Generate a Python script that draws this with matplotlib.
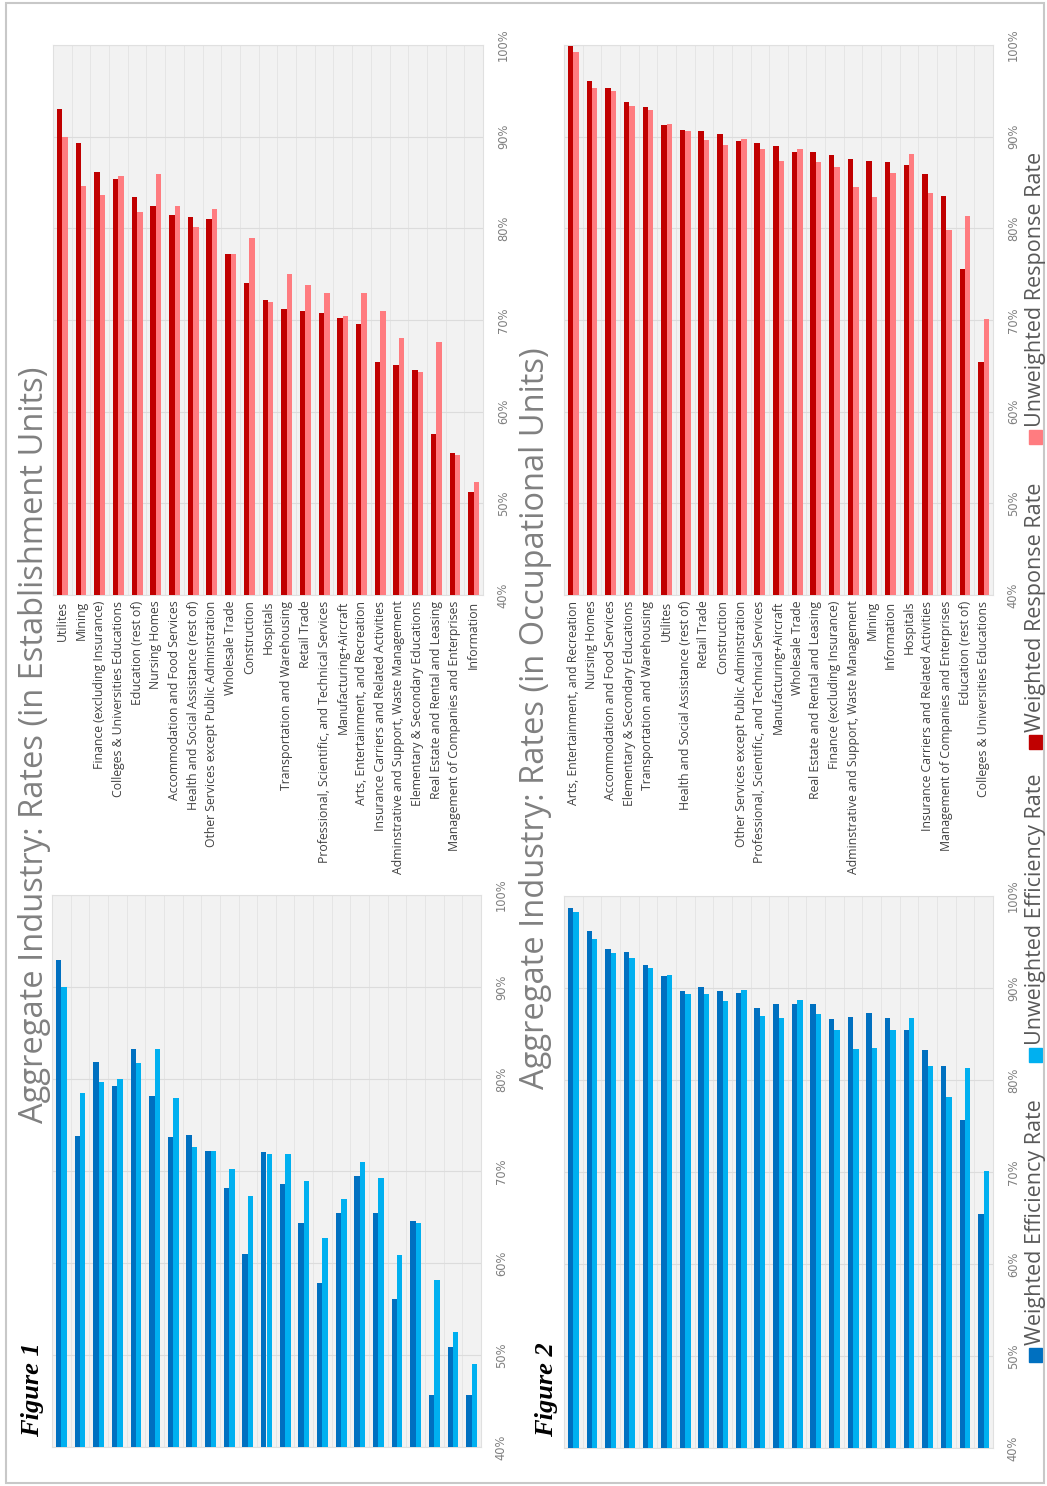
import matplotlib.pyplot as plt
import numpy as np
from matplotlib.patches import Rectangle

# =========================================
#   Data
# =========================================
fig1_industries = [
    'Utilites', 'Mining', 'Finance (excluding Insurance)',
    'Colleges & Universities Educations', 'Education (rest of)', 'Nursing Homes',
    'Accommodation and Food Services', 'Health and Social Assistance (rest of)',
    'Other Services except Public Adminstration', 'Wholesale Trade', 'Construction',
    'Hospitals', 'Transportation and Warehousing', 'Retail Trade',
    'Professional, Scientific, and Technical Services', 'Manufacturing+Aircraft',
    'Arts, Entertainment, and Recreation', 'Insurance Carriers and Related Activities',
    'Adminstrative and Support, Waste Management', 'Elementary & Secondary Educations',
    'Real Estate and Rental and Leasing', 'Management of Companies and Enterprises',
    'Information'
]
fig1_weighted_response = [93.0, 89.3, 86.1, 85.4, 83.4, 82.4, 81.5, 81.2, 81.0, 77.2, 74.0, 72.2,
                          71.2, 71.0, 70.8, 70.2, 69.6, 65.4, 65.1, 64.6, 57.6, 55.5, 51.2]
fig1_unweighted_response = [90.0, 84.6, 83.6, 85.7, 81.8, 85.9, 82.4, 80.1, 82.1, 77.2, 78.9, 72.0,
                            75.0, 73.8, 73.0, 70.4, 73.0, 71.0, 68.0, 64.3, 67.6, 55.3, 52.3]
fig1_weighted_eff = [92.9, 73.8, 81.9, 79.2, 83.3, 78.2, 73.7, 73.9, 72.2, 68.2, 61.0, 72.1,
                     68.6, 64.3, 57.8, 65.4, 69.5, 65.4, 56.1, 64.6, 45.6, 50.9, 45.7]
fig1_unweighted_eff = [90.0, 78.5, 79.7, 80.0, 81.7, 83.3, 77.9, 72.6, 72.2, 70.2, 67.3, 71.9,
                       71.9, 68.9, 62.7, 67.0, 71.0, 69.2, 60.9, 64.3, 58.2, 52.5, 49.0]

fig2_industries = [
    'Arts, Entertainment, and Recreation', 'Nursing Homes', 'Accommodation and Food Services',
    'Elementary & Secondary Educations', 'Transportation and Warehousing', 'Utilites',
    'Health and Social Assistance (rest of)', 'Retail Trade', 'Construction',
    'Other Services except Public Adminstration',
    'Professional, Scientific, and Technical Services', 'Manufacturing+Aircraft',
    'Wholesale Trade', 'Real Estate and Rental and Leasing', 'Finance (excluding Insurance)',
    'Adminstrative and Support, Waste Management', 'Mining', 'Information', 'Hospitals',
    'Insurance Carriers and Related Activities', 'Management of Companies and Enterprises',
    'Education (rest of)', 'Colleges & Universities Educations'
]
fig2_weighted_response = [99.9, 96.1, 95.3, 93.8, 93.2, 91.3, 90.7, 90.6, 90.3, 89.5, 89.3, 89.0,
                          88.3, 88.3, 88.0, 87.6, 87.3, 87.2, 86.9, 85.9, 83.5, 75.6, 65.4]
fig2_unweighted_response = [99.2, 95.3, 95.0, 93.3, 92.9, 91.4, 90.6, 89.6, 89.1, 89.8, 88.7, 87.4,
                            88.7, 87.2, 86.7, 84.5, 83.4, 86.0, 88.1, 83.9, 79.8, 81.3, 70.1]
fig2_weighted_eff = [98.7, 96.2, 94.2, 93.9, 92.5, 91.3, 89.7, 90.1, 89.7, 89.5, 87.8, 88.3,
                     88.3, 88.3, 86.6, 86.8, 87.3, 86.7, 85.4, 83.3, 81.5, 75.6, 65.4]
fig2_unweighted_eff = [98.3, 95.3, 93.8, 93.3, 92.2, 91.4, 89.3, 89.3, 88.6, 89.8, 87.0, 86.7,
                       88.7, 87.2, 85.4, 83.4, 83.5, 85.4, 86.7, 81.5, 78.1, 81.3, 70.1]

red_dark = '#C00000'
red_light = '#FF7C80'
blue_dark = '#0070C0'
blue_light = '#00B0F0'

W, H = 1047, 1486
fig = plt.figure(figsize=(W / 100, H / 100), dpi=100)


def box(x0, y0, x1, y1):
    # pixel box (top-left origin) -> figure fraction
    return [x0 / W, 1 - y1 / H, (x1 - x0) / W, (y1 - y0) / H]


def fx(x):
    return x / W


def fy(y):
    return 1 - y / H


def draw_panel(rect, labels, weighted, unweighted, c_dark, c_light, show_labels):
    ax = fig.add_axes(rect)
    x = np.arange(len(weighted))
    w = 0.29
    ax.bar(x - w / 2, weighted, w, color=c_dark, zorder=3)
    ax.bar(x + w / 2, unweighted, w, color=c_light, zorder=3)
    ax.set_xlim(-0.5, len(x) - 0.5)
    ax.set_ylim(40, 100)
    ax.set_facecolor('#F2F2F2')

    ax.yaxis.tick_right()
    ax.set_yticks(range(40, 101, 10))
    ax.set_yticklabels([f'{v}%' for v in range(40, 101, 10)])
    ax.tick_params(axis='y', length=0, pad=10, labelsize=8.3, labelcolor='#7F7F7F')
    for lbl in ax.get_yticklabels():
        lbl.set_rotation(90)
        lbl.set_va('center')
    ax.grid(axis='y', color='#DCDCDC', lw=0.8, zorder=1)

    ax.set_xticks(np.arange(-0.5, len(x), 0.5), minor=True)
    ax.grid(axis='x', which='minor', color='#E3E3E3', lw=0.6, zorder=1)
    ax.tick_params(axis='x', which='both', length=0)
    ax.set_xticks(x)
    if show_labels:
        ax.set_xticklabels(labels, rotation=90, fontsize=8.8, color='#404040',
                           family='Open Sans')
        ax.tick_params(axis='x', pad=4)
    else:
        ax.set_xticklabels([])
    for s in ax.spines.values():
        s.set_color('#E0E0E0')
        s.set_linewidth(0.8)
    return ax


# Figure 1 (establishment units)
draw_panel(box(53, 45, 483, 595), fig1_industries, fig1_weighted_response,
           fig1_unweighted_response, red_dark, red_light, True)
draw_panel(box(52, 895, 481, 1447), fig1_industries, fig1_weighted_eff,
           fig1_unweighted_eff, blue_dark, blue_light, False)

# Figure 2 (occupational units)
draw_panel(box(564, 45, 993, 595), fig2_industries, fig2_weighted_response,
           fig2_unweighted_response, red_dark, red_light, True)
draw_panel(box(564, 896, 993, 1448), fig2_industries, fig2_weighted_eff,
           fig2_unweighted_eff, blue_dark, blue_light, False)

# titles
fig.text(fx(35), fy(745), 'Aggregate Industry: Rates (in Establishment Units)', rotation=90,
         ha='center', va='center', fontsize=23.5, color='#808080', family='Open Sans')
fig.text(fx(536), fy(718), 'Aggregate Industry: Rates (in Occupational Units)', rotation=90,
         ha='center', va='center', fontsize=23.5, color='#808080', family='Open Sans')

fig.text(fx(33), fy(1390), 'Figure 1', rotation=90, ha='center', va='center', fontsize=19,
         family='Liberation Serif', style='italic', weight='bold', color='black')
fig.text(fx(547), fy(1390), 'Figure 2', rotation=90, ha='center', va='center', fontsize=19,
         family='Liberation Serif', style='italic', weight='bold', color='black')

# legend (rotated, drawn by hand)
legend_items = [('Weighted Efficiency Rate', blue_dark, 1355),
                ('Unweighted Efficiency Rate', blue_light, 1055),
                ('Weighted Response Rate', red_dark, 742),
                ('Unweighted Response Rate', red_light, 437)]
for name, col, yc in legend_items:
    fig.add_artist(Rectangle((fx(1029), fy(yc + 7)), 13 / W, 14 / H, color=col,
                             transform=fig.transFigure))
    fig.text(fx(1036), fy(yc - 10), name, rotation=90, ha='center', va='bottom',
             fontsize=15.5, color='#595959', family='Open Sans')

# page border
fig.add_artist(Rectangle((fx(6), fy(1483)), 1038 / W, 1480 / H, fill=False,
                         edgecolor='#C8C8C8', lw=1.5, transform=fig.transFigure))

fig.savefig('out.png', dpi=100, facecolor='white')
